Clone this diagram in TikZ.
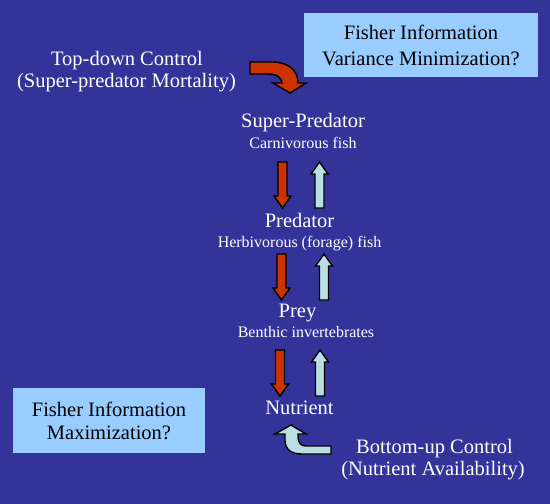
\documentclass[tikz,border=0pt]{standalone}
\usepackage{fontspec}
\setmainfont{Liberation Serif}
\usepackage{tikz}
\usepackage{xcolor}
\definecolor{bgblue}{HTML}{333399}
\definecolor{downred}{HTML}{CC3300}
\definecolor{uplight}{HTML}{BBDEE3}
\definecolor{boxblue}{HTML}{99CCFF}
\newcommand{\bigtxt}{\fontsize{20.5}{23}\selectfont}
\newcommand{\smalltxt}{\fontsize{16}{19}\selectfont}

\begin{document}
\begin{tikzpicture}[x=1pt, y=-1pt,
    level/.style={text=white, anchor=base, inner sep=0pt, font=\bigtxt},
    kind/.style={text=white, anchor=base, inner sep=0pt, font=\smalltxt},
    fisherbox/.style={fill=boxblue, text=black, align=center, inner sep=0pt},
    blockarrow/.style={draw=black, line width=1.4pt, line join=miter}]
    % Background
    \fill[bgblue] (0,0) rectangle (550,504);
    \useasboundingbox (0,0) rectangle (550,504);

    % Fisher information boxes
    \node[fisherbox, minimum width=234, minimum height=64, font=\fontsize{20.5}{26}\selectfont]
        (varmin) at (421,45) {Fisher Information\\Variance Minimization?};
    \node[fisherbox, minimum width=192, minimum height=65, font=\fontsize{20.5}{23}\selectfont]
        (maxim) at (109,420.5) {Fisher Information\\Maximization?};

    % Food chain levels
    \node[level] (super) at (303,127) {Super-Predator};
    \node[kind] (superkind) at (303,148) {Carnivorous fish};
    \node[level] (pred) at (299.5,227) {Predator};
    \node[kind] (predkind) at (299.5,247) {Herbivorous (forage) fish};
    \node[level] (prey) at (297.5,317) {Prey};
    \node[kind] (preykind) at (306,337) {Benthic invertebrates};
    \node[level] (nutr) at (299.5,414) {Nutrient};

    % Controls
    \node[level] (topdown) at (127,65) {Top-down Control};
    \node[level] (topdown2) at (126.5,87) {(Super-predator Mortality)};
    \node[level] (bottomup) at (434.5,453) {Bottom-up Control};
    \node[level] (bottomup2) at (433,475) {(Nutrient Availability)};

    % Downward arrows (red)
    \foreach \cx/\ya/\yb in {282.5/162/208, 281.5/254/300, 280/350/396} {
        \filldraw[blockarrow, fill=downred]
            (\cx-4.5,\ya) -- (\cx+4.5,\ya) -- (\cx+4.5,\yb-12) -- (\cx+8.5,\yb-12)
            -- (\cx,\yb) -- (\cx-8.5,\yb-12) -- (\cx-4.5,\yb-12) -- cycle;
    }
    % Upward arrows (light blue)
    \foreach \cx/\ya/\yb in {319.5/208/162, 324/300/254, 320/396/350} {
        \filldraw[blockarrow, fill=uplight]
            (\cx-4.5,\ya) -- (\cx+4.5,\ya) -- (\cx+4.5,\yb+12) -- (\cx+8.5,\yb+12)
            -- (\cx,\yb) -- (\cx-8.5,\yb+12) -- (\cx-4.5,\yb+12) -- cycle;
    }

    % Curved arrow: top-down control
    \filldraw[blockarrow, fill=downred]
        (250,62) -- (272,62) .. controls (288,62) and (298,70) .. (298,83)
        -- (306,83) -- (290,93) -- (273,83) -- (282,83)
        .. controls (282,78) and (277,74) .. (268,74) -- (250,74) -- cycle;

    % Curved arrow: bottom-up control
    \filldraw[blockarrow, fill=uplight]
        (331,446) -- (306,446) .. controls (300,446) and (298,442) .. (298,436)
        -- (298,434) -- (306,434) -- (291,425) -- (275,434) -- (285,434)
        -- (285,440) .. controls (285,450) and (292,454) .. (302,454)
        -- (331,454) -- cycle;
\end{tikzpicture}
\end{document}
